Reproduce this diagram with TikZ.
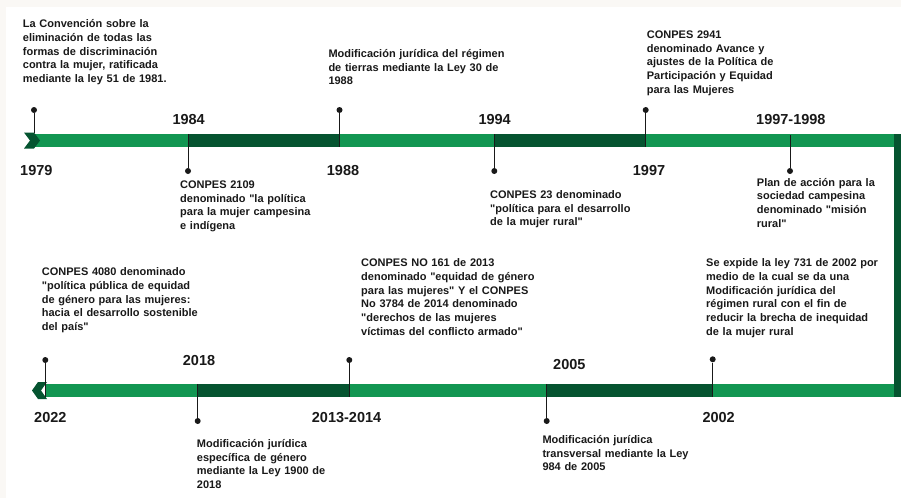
\documentclass[tikz,border=0pt]{standalone}
\usepackage{fontspec}
\setmainfont{Liberation Sans}
\usepackage{tikz}
\usetikzlibrary{positioning}
\definecolor{paper}{RGB}{250,248,245}
\definecolor{barlight}{RGB}{18,150,82}
\definecolor{bardark}{RGB}{5,84,48}
\definecolor{ink}{RGB}{25,25,25}
\newcommand{\qt}{\textquotedbl}

\begin{document}
\begin{tikzpicture}[x=1pt,y=-1pt,
  year/.style={anchor=base west,inner sep=0pt,text=ink,font=\fontsize{14.5}{17}\selectfont\bfseries},
  note/.style={anchor=base west,inner sep=0pt,text width=210pt,align=left,text=ink,font=\fontsize{11}{13.7}\selectfont\bfseries},
  pin/.style={circle,fill=ink,inner sep=0pt,minimum size=6pt},
  stem/.style={draw=ink,line width=1pt}]
      \fill[paper] (0,0) rectangle (901,498);
      \fill[white] (6,7) rectangle (901,498);
      \useasboundingbox (0,0) rectangle (901,498);
      %
      % Bars:
      \fill[barlight] (35,134) rectangle (894,147);
      \fill[bardark] (188,134) rectangle (339.5,147);
      \fill[bardark] (494.3,134) rectangle (645.7,147);
      \fill[bardark] (894,134) rectangle (901,397);
      \fill[barlight] (45,384) rectangle (894,397);
      \fill[bardark] (197.7,384) rectangle (349.3,397);
      \fill[bardark] (546.7,384) rectangle (712.7,397);
      \fill[bardark] (24,132.5) -- (34,132.5) -- (40,140.5) -- (34,148.5) -- (24,148.5) -- (30,140.5) -- cycle;
      \fill[bardark] (38,382) -- (47,382) -- (41,390.5) -- (47,399) -- (38,399) -- (32,390.5) -- cycle;
      %
      % Pins, top line:
      \node[pin] (d79) at (34,110) {};
      \coordinate (b79) at (34,133);
      \node[pin] (d84) at (188,171) {};
      \coordinate (b84) at (188,133.5);
      \node[pin] (d88) at (339.5,110) {};
      \coordinate (b88) at (339.5,147);
      \node[pin] (d94) at (494.3,171) {};
      \coordinate (b94) at (494.3,133.5);
      \node[pin] (d97) at (645.7,110) {};
      \coordinate (b97) at (645.7,147);
      \node[pin] (d98) at (790,171) {};
      \coordinate (b98) at (790,135);
      % Pins, bottom line:
      \node[pin] (d22) at (45.3,360) {};
      \coordinate (b22) at (45.3,397);
      \node[pin] (d18) at (197.7,421) {};
      \coordinate (b18) at (197.7,383.5);
      \node[pin] (d13) at (349.3,360) {};
      \coordinate (b13) at (349.3,397);
      \node[pin] (d05) at (546.7,421) {};
      \coordinate (b05) at (546.7,383.5);
      \node[pin] (d02) at (712.7,359.3) {};
      \coordinate (b02) at (712.7,397);
      \foreach \y in {79,84,88,94,97,98,22,18,13,05,02}
        \draw[stem] (d\y) -- (b\y);
      %
      % Years:
      \node[year] (y79) at (20,175.7) {1979};
      \node[year] (y84) at (172.3,124) {1984};
      \node[year] (y88) at (326.7,175.7) {1988};
      \node[year] (y94) at (478.3,124) {1994};
      \node[year] (y97) at (632.7,175.7) {1997};
      \node[year] (y98) at (756,124) {1997-1998};
      \node[year] (y22) at (34,422.3) {2022};
      \node[year] (y18) at (182.7,365.7) {2018};
      \node[year] (y13) at (311.7,422.3) {2013-2014};
      \node[year] (y05) at (553,369.3) {2005};
      \node[year] (y02) at (702.3,422.3) {2002};
      %
      % Notes:
      \node[note] (t79) at (22.7,27.7) {La Convención sobre la\\ eliminación de todas las\\ formas de discriminación\\ contra la mujer, ratificada\\ mediante la ley 51 de 1981.};
      \node[note] (t88) at (328.3,57.3) {Modificación jurídica del régimen\\ de tierras mediante la Ley 30 de\\ 1988};
      \node[note] (t97) at (646.7,38.3) {CONPES 2941\\ denominado Avance y\\ ajustes de la Política de\\ Participación y Equidad\\ para las Mujeres};
      \node[note] (t84) at (180,188.3) {CONPES 2109\\ denominado \qt la política\\ para la mujer campesina\\ e indígena};
      \node[note] (t94) at (490,198.3) {CONPES 23 denominado\\ \qt política para el desarrollo\\ de la mujer rural\qt};
      \node[note] (t98) at (756.7,186) {Plan de acción para la\\ sociedad campesina\\ denominado \qt misión\\ rural\qt};
      \node[note] (t22) at (41.7,275.7) {CONPES 4080 denominado\\ \qt política pública de equidad\\ de género para las mujeres:\\ hacia el desarrollo sostenible\\ del país\qt};
      \node[note] (t13) at (361,266.7) {CONPES NO 161 de 2013\\ denominado \qt equidad de género\\ para las mujeres\qt{} Y el CONPES\\ No 3784 de 2014 denominado\\ \qt derechos de las mujeres\\ víctimas del conflicto armado\qt};
      \node[note] (t02) at (706,266.7) {Se expide la ley 731 de 2002 por\\ medio de la cual se da una\\ Modificación jurídica del\\ régimen rural con el fin de\\ reducir la brecha de inequidad\\ de la mujer rural};
      \node[note] (t18) at (196.7,447.3) {Modificación jurídica\\ específica de género\\ mediante la Ley 1900 de\\ 2018};
      \node[note] (t05) at (542.3,443.3) {Modificación jurídica\\ transversal mediante la Ley\\ 984 de 2005};
\end{tikzpicture}
\end{document}
